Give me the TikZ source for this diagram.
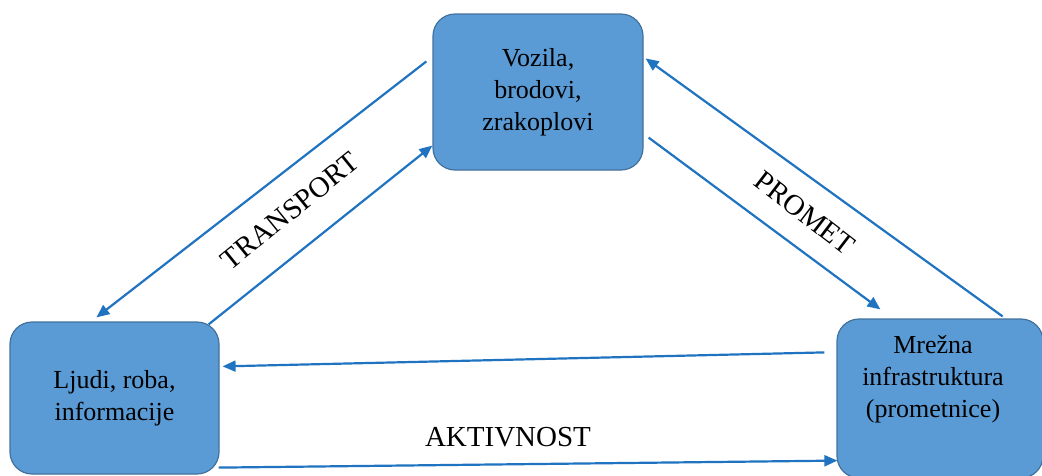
\documentclass[tikz,border=0pt]{standalone}
\usepackage{fontspec}
\setmainfont{Liberation Serif}
\usetikzlibrary{arrows.meta,calc}
\definecolor{boxfill}{HTML}{5B9BD5}
\definecolor{boxline}{HTML}{41719C}
\definecolor{arrowblue}{HTML}{1F73C0}
\begin{document}
\begin{tikzpicture}[x=1pt,y=-1pt,
  blockbox/.style={draw=boxline,line width=1.2pt,fill=boxfill,rounded corners=22pt,
    align=center,inner sep=0pt,font=\fontsize{26}{32}\selectfont},
  conn/.style={draw=arrowblue,line width=2.2pt,-{Triangle[length=13pt,width=11pt]}},
  lbl/.style={font=\fontsize{29}{32}\selectfont,inner sep=0pt}]
\useasboundingbox (0,0) rectangle (1042,475);
\begin{scope}
\clip (0,0) rectangle (1042,475);
\node[blockbox,minimum width=210pt,minimum height=156pt] (top) at (538,92) {Vozila,\\brodovi,\\zrakoplovi};
\node[blockbox,minimum width=209pt,minimum height=152pt] (left) at (114.5,398) {Ljudi, roba,\\informacije};
\node[blockbox,minimum width=206pt,minimum height=159pt] (right) at (940,398.5) {};
\node[align=center,inner sep=0pt,font=\fontsize{26}{32}\selectfont] (rightlbl) at (933,379) {Mrežna\\infrastruktura\\(prometnice)};
\end{scope}
\draw[conn] ($(top.north west)+(-6,48)$) -- ($(left.north west)+(87,-4)$);
\draw[conn] ($(left.north east)+(-11,3)$) -- ($(top.south west)+(0,-25)$);
\draw[conn] ($(right.north east)+(-41,-2)$) -- ($(top.north east)+(2,45)$);
\draw[conn] ($(top.south east)+(5,-33)$) -- ($(right.north west)+(44,-9)$);
\draw[conn] ($(right.north west)+(-12,34)$) -- ($(left.north east)+(3,45)$);
\draw[conn] ($(left.south east)+(-1,-7)$) -- ($(right.south west)+(1,-18)$);
\node[lbl,rotate=39] (transport) at (290,211) {TRANSPORT};
\node[lbl,rotate=-37.5] (promet) at (805,213) {PROMET};
\node[lbl] (aktivnost) at (508,437) {AKTIVNOST};
\end{tikzpicture}
\end{document}
